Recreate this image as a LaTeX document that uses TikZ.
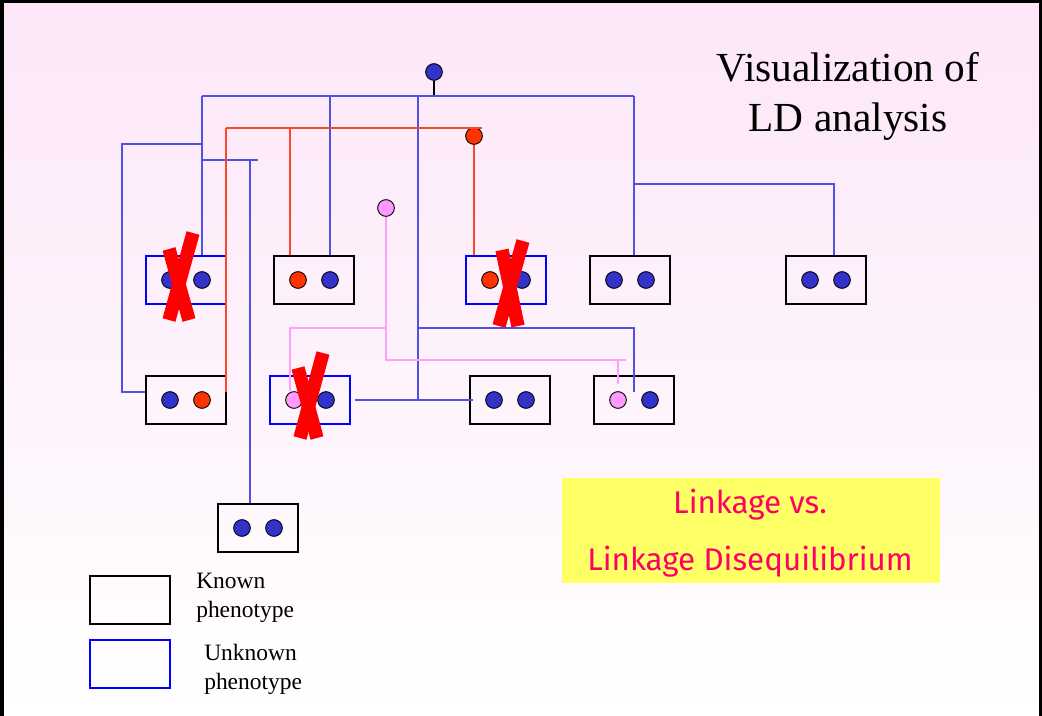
\documentclass[tikz,border=0pt]{standalone}
\usepackage{fontspec}
\setmainfont{Liberation Serif}
\newfontfamily\handfont{Fira Sans}
\definecolor{bgpink}{RGB}{252,230,248}
\definecolor{alleleblue}{RGB}{51,51,204}
\definecolor{allelered}{RGB}{255,51,0}
\definecolor{allelepink}{RGB}{255,153,255}
\definecolor{linkblue}{RGB}{80,80,225}
\definecolor{linkred}{RGB}{255,70,40}
\definecolor{linkpink}{RGB}{255,160,250}
\definecolor{notebg}{RGB}{255,255,102}
\definecolor{notetext}{RGB}{255,0,102}
\definecolor{crossred}{RGB}{255,0,0}
\tikzset{
  known/.style={rectangle, draw=black, line width=1pt, minimum width=60pt, minimum height=36pt, inner sep=0pt},
  unknown/.style={known, draw=blue},
  allele/.style={circle, draw=black, line width=0.7pt, minimum size=12.5pt, inner sep=0pt},
  ab/.style={allele, fill=alleleblue},
  ar/.style={allele, fill=allelered},
  ap/.style={allele, fill=allelepink},
  bluelink/.style={draw=linkblue, line width=0.8pt},
  redlink/.style={draw=linkred, line width=0.8pt},
  pinklink/.style={draw=linkpink, line width=0.8pt},
  crossmark/.style={draw=crossred, line width=10pt},
  titletxt/.style={font=\fontsize{31}{36}\selectfont, anchor=base, inner sep=0pt},
  legendtxt/.style={font=\fontsize{17.6}{20}\selectfont, anchor=base west, inner sep=0pt},
  notetxt/.style={font=\handfont\fontsize{23.5}{28}\selectfont, text=notetext, anchor=base, inner sep=0pt}
}
\begin{document}
\begin{tikzpicture}[x=0.75pt, y=-0.75pt]
\useasboundingbox (0,0) rectangle (1042,716);
% background and frame
\shade[top color=bgpink, bottom color=white] (0,0) rectangle (1042,716);
\draw[line width=3pt] (2,716) -- (2,0);
\draw[line width=2.2pt] (0,1.5) -- (1042,1.5);
\draw[line width=2.4pt] (1040.4,0) -- (1040.4,716);

% title
\node[titletxt] (t1) at (848,82) {Visualization of};
\node[titletxt] (t2) at (848,132) {LD analysis};

% founders
\node[ab] (fb) at (434,72) {};
\node[ar] (fr) at (474,136) {};
\node[ap] (fp) at (386,208) {};

% junction points
\coordinate (jB1) at (202,96);
\coordinate (jB2) at (634,96);
\coordinate (jB3) at (418,96);
\coordinate (jB4) at (634,184);
\coordinate (jB5) at (834,184);
\coordinate (jB6) at (418,328);
\coordinate (jB7) at (634,328);
\coordinate (jB8) at (202,144);
\coordinate (jB9) at (202,160);
\coordinate (jB10) at (250,160);
\coordinate (jB11) at (258,160);
\coordinate (jL1) at (122,144);
\coordinate (jL2) at (122,392);
\coordinate (jR1) at (226,128);
\coordinate (jR2) at (482,128);
\coordinate (jR3) at (290,128);
\coordinate (eR1) at (226,392);
\coordinate (jP1) at (386,360);
\coordinate (jP2) at (626,360);
\coordinate (jP3) at (386,328);
\coordinate (jP4) at (290,328);
\coordinate (jP5) at (618,360);

% first generation
\node[unknown] (b1) at (186,280) {};
\node[known]   (b2) at (314,280) {};
\node[unknown] (b3) at (506,280) {};
\node[known]   (b4) at (630,280) {};
\node[known]   (b5) at (826,280) {};
% second generation
\node[known]   (b6) at (186,400) {};
\node[unknown] (b7) at (310,400) {};
\node[known]   (b8) at (510,400) {};
\node[known]   (b9) at (634,400) {};
\node[known]   (b10) at (258,528) {};

% alleles
\node[ab] (b1a) at (170,280) {}; \node[ab] (b1b) at (202,280) {};
\node[ar] (b2a) at (298,280) {}; \node[ab] (b2b) at (330,280) {};
\node[ar] (b3a) at (490,280) {}; \node[ab] (b3b) at (522,280) {};
\node[ab] (b4a) at (614,280) {}; \node[ab] (b4b) at (646,280) {};
\node[ab] (b5a) at (810,280) {}; \node[ab] (b5b) at (842,280) {};
\node[ab] (b6a) at (170,400) {}; \node[ar] (b6b) at (202,400) {};
\node[ap] (b7a) at (294,400) {}; \node[ab] (b7b) at (326,400) {};
\node[ab] (b8a) at (494,400) {}; \node[ab] (b8b) at (526,400) {};
\node[ap] (b9a) at (618,400) {}; \node[ab] (b9b) at (650,400) {};
\node[ab] (b10a) at (242,528) {}; \node[ab] (b10b) at (274,528) {};

% blue descent lines
\draw[line width=0.8pt] (fb.south) -- (fb.south |- jB1);
\draw[bluelink] (jB1) -- (jB2);
\draw[bluelink] (jB1) -- (jB1 |- b1.north);
\draw[bluelink] (b2b |- jB1) -- (b2b |- b2.north);
\draw[bluelink] (jB3) -- (jB3 |- b8.west);
\draw[bluelink] (jB2) -- (jB2 |- b4.north);
\draw[bluelink] (jB4) -- (jB5) -- (jB5 |- b5.north);
\draw[bluelink] (jB6) -- (jB7) -- ++(0,64);
\draw[bluelink] ([xshift=3pt]b7.east) -- ([xshift=3pt]b8.west);
\draw[bluelink] (jB8) -- (jL1) -- (jL2) -- (jL2 -| b6.west);
\draw[bluelink] (jB9) -- (jB11);
\draw[bluelink] (jB10) -- (jB10 |- b10.north);

% red descent lines
\draw[redlink] (jR1) -- (jR2);
\draw[redlink] (jR1) -- (eR1);
\draw[redlink] (jR3) -- (jR3 |- b2.north);
\draw[redlink] (fr.south) -- (fr.south |- b3.north);

% pink descent lines
\draw[pinklink] (fp.south) -- (jP1) -- (jP2);
\draw[pinklink] (jP3) -- (jP4) -- (jP4 |- b7a.north);
\draw[pinklink] (jP5) -- ++(0,24);

% excluded individuals
\draw[crossmark] (193,233) -- (169,320);
\draw[crossmark] (169,249) -- (189,320);
\draw[crossmark] (523,241) -- (499,326);
\draw[crossmark] (502,250) -- (518,326);
\draw[crossmark] (323,353) -- (300,438);
\draw[crossmark] (298,368) -- (317,438);

% legend
\node[known] (lk) at (130,600) {};
\node[unknown] (lu) at (130,664) {};
\node[legendtxt] (lk1) at (196,588) {Known};
\node[legendtxt] (lk2) at (196,617) {phenotype};
\node[legendtxt] (lu1) at (204,660) {Unknown};
\node[legendtxt] (lu2) at (204,689) {phenotype};

% note
\node[fill=notebg, minimum width=283.5pt, minimum height=78.75pt, inner sep=0pt] (note) at (751,530.5) {};
\node[notetxt] (n1) at (750,513) {Linkage vs.};
\node[notetxt] (n2) at (750,570) {Linkage Disequilibrium};
\end{tikzpicture}
\end{document}
